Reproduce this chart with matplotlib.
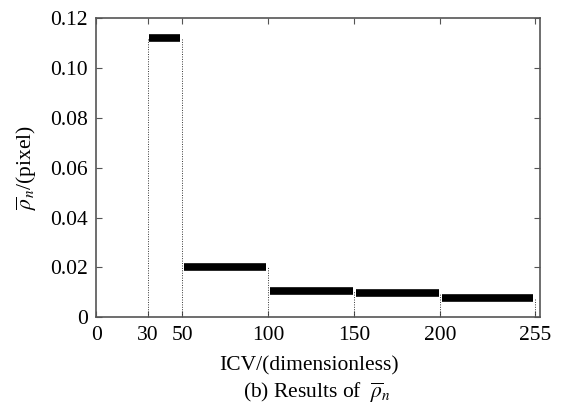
import matplotlib.pyplot as plt

plt.rcParams['font.family'] = ['Liberation Serif', 'DejaVu Serif']
plt.rcParams['mathtext.fontset'] = 'stix'

# interval edges and mean rho per interval
edges = [30, 50, 100, 150, 200, 255]
rho = [0.112, 0.020, 0.0106, 0.0099, 0.0075]
xticks = [0, 30, 50, 100, 150, 200, 255]
yticks = [0, 0.02, 0.04, 0.06, 0.08, 0.10, 0.12]

fig = plt.figure(figsize=(5.62, 4.13), dpi=100)
ax = fig.add_axes([0.171, 0.232, 0.79, 0.724])

# dotted boundaries
for i, e in enumerate(edges):
    h = max(rho[max(i - 1, 0)], rho[min(i, len(rho) - 1)])
    ax.vlines(e, 0, h, colors='#333333', linestyles=(0, (1, 1.5)), linewidth=0.7)

# thick horizontal levels
for i in range(len(rho)):
    ax.hlines(rho[i], edges[i] + 1, edges[i + 1] - 1, colors='black', linewidth=5.5)

ax.set_xlim(0, 258)
ax.set_ylim(0, 0.12)
ax.set_xticks(xticks)
ax.set_yticks(yticks)
ax.set_yticklabels(['0', '0.02', '0.04', '0.06', '0.08', '0.10', '0.12'])
ax.tick_params(direction='in', top=True, right=True, labelsize=15.5, length=4,
               color='#555555', pad=6)
for s in ax.spines.values():
    s.set_color('#555555')
    s.set_linewidth(1.2)

ax.set_xlabel('ICV/(dimensionless)', fontsize=15.5, labelpad=6)
ax.xaxis.set_label_coords(0.48, -0.13)
ax.set_ylabel(r'$\overline{\rho}_n$/(pixel)', fontsize=15.5, labelpad=8)
fig.text(0.565, 0.048, r'(b) Results of  $\overline{\rho}_n$', fontsize=15.5,
         ha='center', va='center')

fig.savefig('out.png', dpi=100)
